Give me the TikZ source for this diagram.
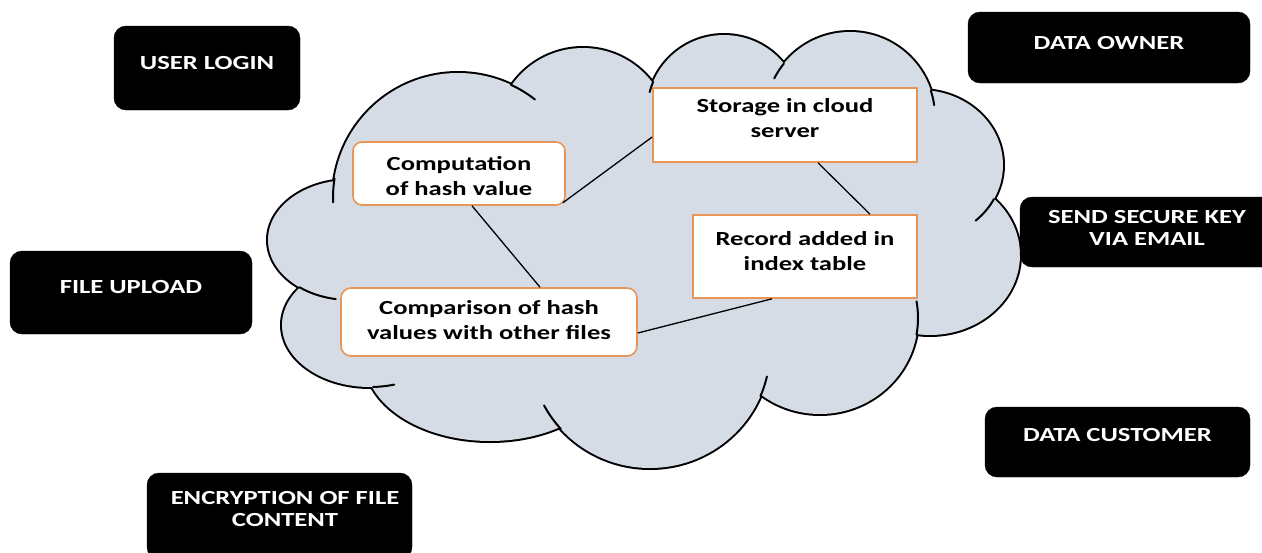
\documentclass[tikz,border=0pt]{standalone}
\usepackage{fontspec}
\setmainfont{Carlito}[FakeStretch=1.33]
\definecolor{cloudfill}{HTML}{D6DCE5}
\definecolor{boxedge}{HTML}{E8955A}
\newcommand\cloudtick[6]{\draw[ticklw] (#1,#2) ++(#5:#3 and #4) arc[start angle=#5, end angle=#6, x radius=#3, y radius=#4];}
\def\lobes{458/198/125/125, 583/135/87/87, 724/112/77/77, 850/117/85/85, 920/165/83/75, 930/255/90/80, 820/318/98/96, 650/350/120/118, 490/360/125/81, 370/325/88/62, 350/240/82/60}
\begin{document}
\begin{tikzpicture}[x=1pt,y=-1pt,
  blackbox/.style={draw=black, fill=black, rounded corners=12pt, inner sep=0pt},
  btext/.style={text=white, font=\fontsize{20}{22}\selectfont\bfseries, align=center, inner sep=0pt},
  procbox/.style={draw=boxedge, line width=1.6pt, fill=white, inner sep=0pt},
  ptext/.style={text=black, font=\fontsize{20}{25}\selectfont\bfseries, align=center, inner sep=0pt},
  link/.style={draw=black, line width=1.3pt},
  ticklw/.style={line width=2pt, line cap=round}]
\useasboundingbox (0,0) rectangle (1262,552);
\clip (0,0) rectangle (1262,552);

% cloud
\foreach \cx/\cy/\rx/\ry in \lobes {\draw[line width=4pt] (\cx,\cy) ellipse [x radius=\rx, y radius=\ry];}
\fill[cloudfill] (458,198) -- (583,135) -- (724,112) -- (850,117) -- (920,165) -- (930,255) -- (820,318) -- (650,350) -- (490,360) -- (370,325) -- (350,240) -- cycle;
\foreach \cx/\cy/\rx/\ry in \lobes {\fill[cloudfill] (\cx,\cy) ellipse [x radius=\rx, y radius=\ry];}
\cloudtick{458}{198}{125}{125}{189}{178}
\cloudtick{458}{198}{125}{125}{295}{308}
\cloudtick{724}{112}{77}{77}{203}{195}
\cloudtick{850}{117}{85}{85}{219}{207}
\cloudtick{850}{117}{85}{85}{342}{352}
\cloudtick{920}{165}{83}{75}{27}{48}
\cloudtick{820}{318}{98}{96}{10}{-10}
\cloudtick{650}{350}{120}{118}{23}{13}
\cloudtick{650}{350}{120}{118}{138}{152}
\cloudtick{370}{325}{88}{62}{88}{74}
\cloudtick{350}{240}{82}{60}{128}{100}

% process boxes
\node[procbox, rounded corners=9pt, minimum width=212pt, minimum height=63pt] (comp) at (459,173.5) {};
\node[procbox, minimum width=264pt, minimum height=74pt] (stor) at (785,125) {};
\node[procbox, minimum width=224pt, minimum height=83pt] (rec) at (805,256.5) {};
\node[procbox, rounded corners=10pt, minimum width=296pt, minimum height=68pt] (cmp) at (489,322) {};

% connectors
\draw[link] ([xshift=-3pt,yshift=3pt]comp.south east) -- ([yshift=-12pt]stor.west);
\draw[link] ([xshift=13pt]comp.south) -- ([xshift=51pt]cmp.north);
\draw[link] ([xshift=33pt]stor.south) -- ([xshift=65pt]rec.north);
\draw[link] ([xshift=-33pt]rec.south) -- ([yshift=-11pt]cmp.east);

\node[ptext] (comp-t) at (459,176) {Computation\\of hash value};
\node[ptext] (stor-t) at (785,118.5) {Storage in cloud\\server};
\node[ptext] (rec-t) at (805,251) {Record added in\\index table};
\node[ptext] (cmp-t) at (489,320) {Comparison of hash\\values with other files};

% black boxes
\node[blackbox, minimum width=186pt, minimum height=84pt] (login) at (207,68) {};
\node[btext] (login-t) at (207,63) {USER LOGIN};
\node[blackbox, minimum width=242pt, minimum height=83pt] (upload) at (131,292.5) {};
\node[btext] (upload-t) at (131,287) {FILE UPLOAD};
\node[blackbox, minimum width=265pt, minimum height=86pt] (encr) at (279.5,516) {};
\node[btext] (encr-t) at (285,509) {ENCRYPTION OF FILE\\CONTENT};
\node[blackbox, minimum width=282pt, minimum height=71pt] (owner) at (1109,47.5) {};
\node[btext] (owner-t) at (1109,43) {DATA OWNER};
\node[blackbox, minimum width=255pt, minimum height=70pt] (send) at (1147.5,232) {};
\node[btext] (send-t) at (1147,227.5) {SEND SECURE KEY\\VIA EMAIL};
\node[blackbox, minimum width=265pt, minimum height=70pt] (cust) at (1117.5,442) {};
\node[btext] (cust-t) at (1117.5,435) {DATA CUSTOMER};
\end{tikzpicture}
\end{document}
